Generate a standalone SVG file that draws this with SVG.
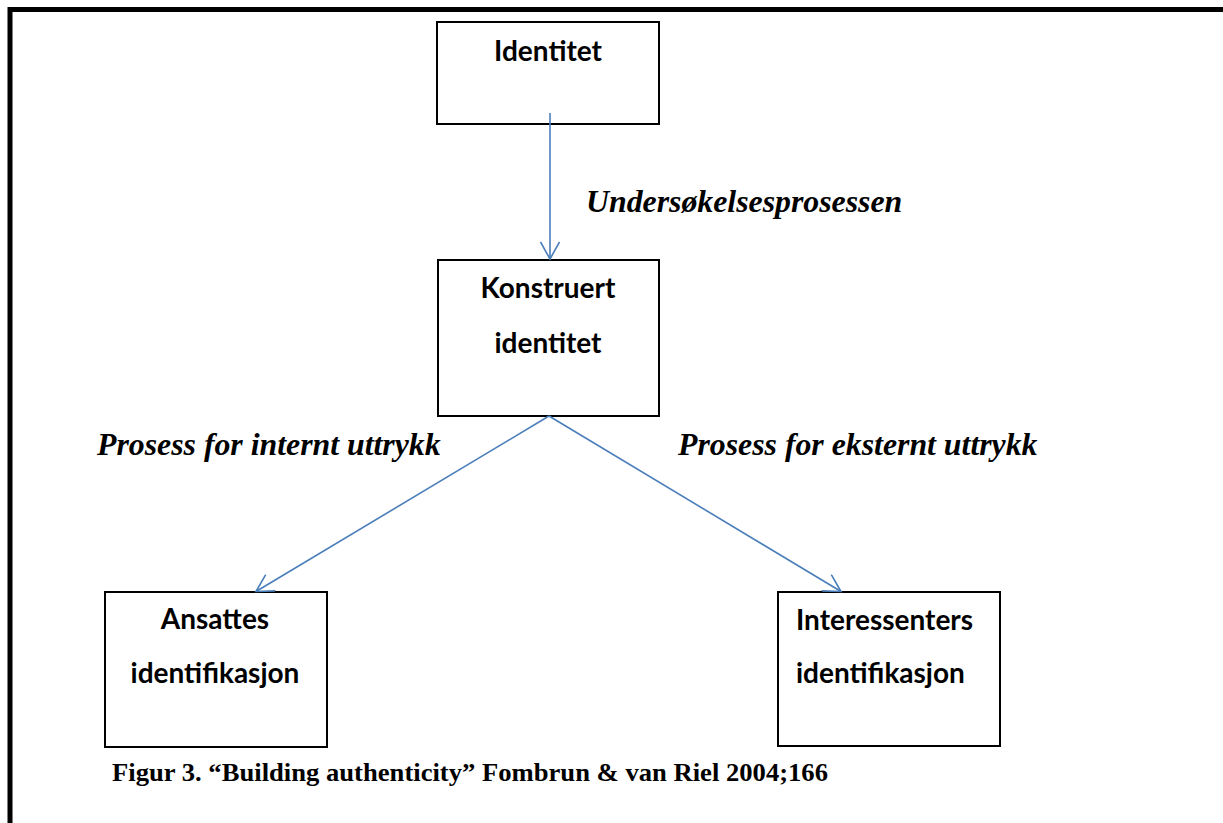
<svg xmlns="http://www.w3.org/2000/svg" width="1223" height="823" viewBox="0 0 1223 823">
  <style>
    .box { fill: #ffffff; stroke: #000000; stroke-width: 2; }
    .lbl { font-family: Lato, "Liberation Sans", sans-serif; font-weight: bold; font-size: 28px; fill: #000000; }
    .it { font-family: "Liberation Serif", "Times New Roman", serif; font-weight: bold; font-style: italic; font-size: 31.8px; fill: #000000; }
    .cap { font-family: "Liberation Serif", "Times New Roman", serif; font-weight: bold; font-size: 26px; fill: #000000; }
    .conn { stroke: #4a7ebb; stroke-width: 1.6; fill: none; }
  </style>
  <defs>
    <marker id="arr" viewBox="0 0 20 20" refX="18" refY="10" markerWidth="20" markerHeight="20" markerUnits="userSpaceOnUse" orient="auto">
      <path d="M1,0.5 L18,10 L1,19.5" fill="none" stroke="#4a7ebb" stroke-width="1.6"/>
    </marker>
  </defs>
  <rect x="0" y="0" width="1223" height="823" fill="#ffffff"/>
  <path d="M10,823 L10,9.5 L1223,9.5" fill="none" stroke="#000000" stroke-width="5"/>

  <g id="node-identitet">
    <rect class="box" x="437" y="22" width="222" height="102"/>
    <text class="lbl" x="548" y="61" text-anchor="middle">Identitet</text>
  </g>
  <g id="node-konstruert">
    <rect class="box" x="438" y="260" width="221" height="156"/>
    <text class="lbl" x="548" y="298" text-anchor="middle">Konstruert</text>
    <text class="lbl" x="548" y="353" text-anchor="middle">identitet</text>
  </g>
  <g id="node-ansattes">
    <rect class="box" x="105" y="592" width="222" height="155"/>
    <text class="lbl" x="215" y="629" text-anchor="middle">Ansattes</text>
    <text class="lbl" x="215" y="683" text-anchor="middle">identifikasjon</text>
  </g>
  <g id="node-interessenters">
    <rect class="box" x="778" y="592" width="222" height="154"/>
    <text class="lbl" x="796" y="630">Interessenters</text>
    <text class="lbl" x="796" y="683">identifikasjon</text>
  </g>

  <g id="connectors">
    <line class="conn" x1="550" y1="113" x2="550" y2="259" marker-end="url(#arr)"/>
    <line class="conn" x1="549" y1="416" x2="256" y2="591.5" marker-end="url(#arr)"/>
    <line class="conn" x1="549" y1="416" x2="841" y2="591.5" marker-end="url(#arr)"/>
  </g>

  <g id="labels">
    <text class="it" x="586" y="212">Undersøkelsesprosessen</text>
    <text class="it" x="97" y="455">Prosess for internt uttrykk</text>
    <text class="it" x="678" y="455">Prosess for eksternt uttrykk</text>
  </g>
  <text class="cap" x="112" y="781" textLength="716" lengthAdjust="spacingAndGlyphs">Figur 3. “Building authenticity” Fombrun &amp; van Riel 2004;166</text>
</svg>
